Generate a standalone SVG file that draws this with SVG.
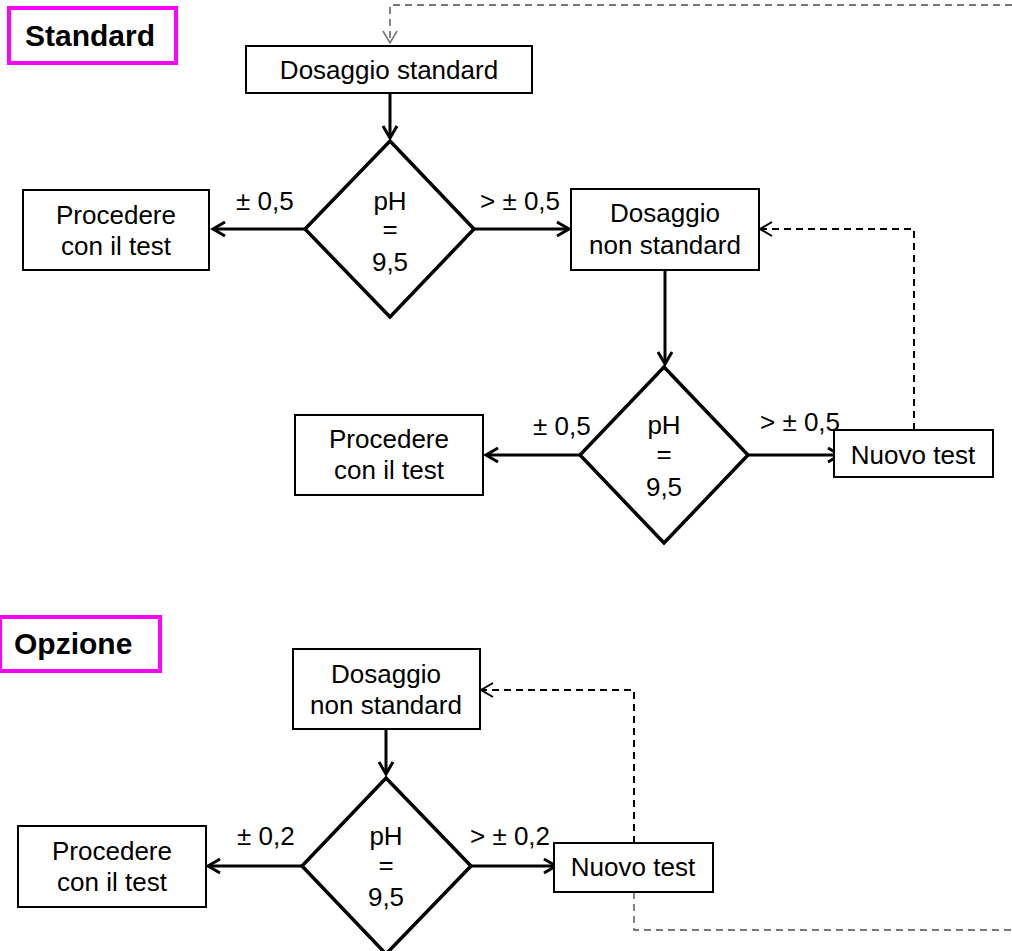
<svg xmlns="http://www.w3.org/2000/svg" width="1012" height="951" viewBox="0 0 1012 951">
<style>
.box{fill:#fff;stroke:#000;stroke-width:2}
.dia{fill:#fff;stroke:#000;stroke-width:3.5}
.lbl{fill:#fff;stroke:#ff00ff;stroke-width:4}
.t{font-family:"Liberation Sans",Arial,sans-serif;font-size:26px;fill:#000;text-anchor:middle}
.tb{font-family:"Liberation Sans",Arial,sans-serif;font-size:30px;font-weight:bold;fill:#000}
.e{font-family:"Liberation Sans",Arial,sans-serif;font-size:26px;fill:#000}
.a{fill:none;stroke:#000;stroke-width:3}
.d{fill:none;stroke:#000;stroke-width:2;stroke-dasharray:7,5}
.g{fill:none;stroke:#777;stroke-width:1.8;stroke-dasharray:7,5}
</style>
<defs>
<marker id="ah" markerUnits="userSpaceOnUse" markerWidth="20" markerHeight="20" refX="15" refY="9" orient="auto">
<path d="M3,2 L15,9 L3,16" fill="none" stroke="#000" stroke-width="3"/>
</marker>
<marker id="ahd" markerUnits="userSpaceOnUse" markerWidth="20" markerHeight="20" refX="15" refY="9" orient="auto">
<path d="M3,2 L15,9 L3,16" fill="none" stroke="#000" stroke-width="2"/>
</marker>
<marker id="ahg" markerUnits="userSpaceOnUse" markerWidth="20" markerHeight="20" refX="15" refY="9" orient="auto">
<path d="M3,2 L15,9 L3,16" fill="none" stroke="#777" stroke-width="1.6"/>
</marker>
</defs>
<rect width="1012" height="951" fill="#fff"/>

<g id="connectors">
<path class="g" d="M1012,5 L390,5 L390,43" marker-end="url(#ahg)"/>
<path class="a" d="M390,94 L390,138" marker-end="url(#ah)"/>
<path class="a" d="M305,229 L213,229" marker-end="url(#ah)"/>
<path class="a" d="M474,229 L569,229" marker-end="url(#ah)"/>
<path class="a" d="M665,271 L665,364" marker-end="url(#ah)"/>
<path class="a" d="M580,455 L486,455" marker-end="url(#ah)"/>
<path class="a" d="M748,455 L840,455" marker-end="url(#ah)"/>
<path class="d" d="M914,430 L914,229 L760,229" marker-end="url(#ahd)"/>
<path class="a" d="M386,730 L386,774" marker-end="url(#ah)"/>
<path class="a" d="M302,866 L208,866" marker-end="url(#ah)"/>
<path class="a" d="M471,866 L556,866" marker-end="url(#ah)"/>
<path class="d" d="M634,843 L634,690 L481,690" marker-end="url(#ahd)"/>
<path class="g" d="M634,892 L634,930 L1012,930"/>
</g>

<g id="label-standard">
<rect class="lbl" x="9" y="8" width="167" height="55"/>
<text class="tb" x="25" y="46">Standard</text>
</g>
<g id="dosaggio-standard">
<rect class="box" x="246" y="46" width="286" height="47"/>
<text class="t" x="389" y="79">Dosaggio standard</text>
</g>
<g id="ph1">
<polygon class="dia" points="390,141 474,229 390,317 305,229"/>
<text class="t" x="390" y="210">pH</text>
<text class="t" x="390" y="238">=</text>
<text class="t" x="390" y="271">9,5</text>
</g>
<g id="procedere1">
<rect class="box" x="23" y="190" width="186" height="80"/>
<text class="t" x="116" y="224">Procedere</text>
<text class="t" x="116" y="255">con il test</text>
</g>
<g id="dosaggio-nonstd1">
<rect class="box" x="571" y="189" width="188" height="81"/>
<text class="t" x="665" y="222">Dosaggio</text>
<text class="t" x="665" y="254">non standard</text>
</g>
<text class="e" x="236" y="210">± 0,5</text>
<text class="e" x="480" y="210">&gt; ± 0,5</text>
<g id="ph2">
<polygon class="dia" points="664,367 748,455 664,543 580,455"/>
<text class="t" x="664" y="434">pH</text>
<text class="t" x="664" y="463">=</text>
<text class="t" x="664" y="496">9,5</text>
</g>
<g id="procedere2">
<rect class="box" x="295" y="415" width="188" height="80"/>
<text class="t" x="389" y="448">Procedere</text>
<text class="t" x="389" y="479">con il test</text>
</g>
<g id="nuovo-test1">
<rect class="box" x="834" y="430" width="159" height="47"/>
<text class="t" x="913" y="464">Nuovo test</text>
</g>
<text class="e" x="533" y="435">± 0,5</text>
<text class="e" x="760" y="431">&gt; ± 0,5</text>

<g id="label-opzione">
<rect class="lbl" x="0" y="617" width="160" height="54"/>
<text class="tb" x="14" y="654">Opzione</text>
</g>
<g id="dosaggio-nonstd2">
<rect class="box" x="293" y="649" width="187" height="80"/>
<text class="t" x="386" y="683">Dosaggio</text>
<text class="t" x="386" y="714">non standard</text>
</g>
<g id="ph3">
<polygon class="dia" points="386,778 471,866 386,954 302,866"/>
<text class="t" x="386" y="845">pH</text>
<text class="t" x="386" y="874">=</text>
<text class="t" x="386" y="906">9,5</text>
</g>
<g id="procedere3">
<rect class="box" x="18" y="826" width="188" height="81"/>
<text class="t" x="112" y="860">Procedere</text>
<text class="t" x="112" y="891">con il test</text>
</g>
<g id="nuovo-test2">
<rect class="box" x="554" y="843" width="159" height="49"/>
<text class="t" x="633" y="876">Nuovo test</text>
</g>
<text class="e" x="237" y="845">± 0,2</text>
<text class="e" x="470" y="845">&gt; ± 0,2</text>
</svg>
